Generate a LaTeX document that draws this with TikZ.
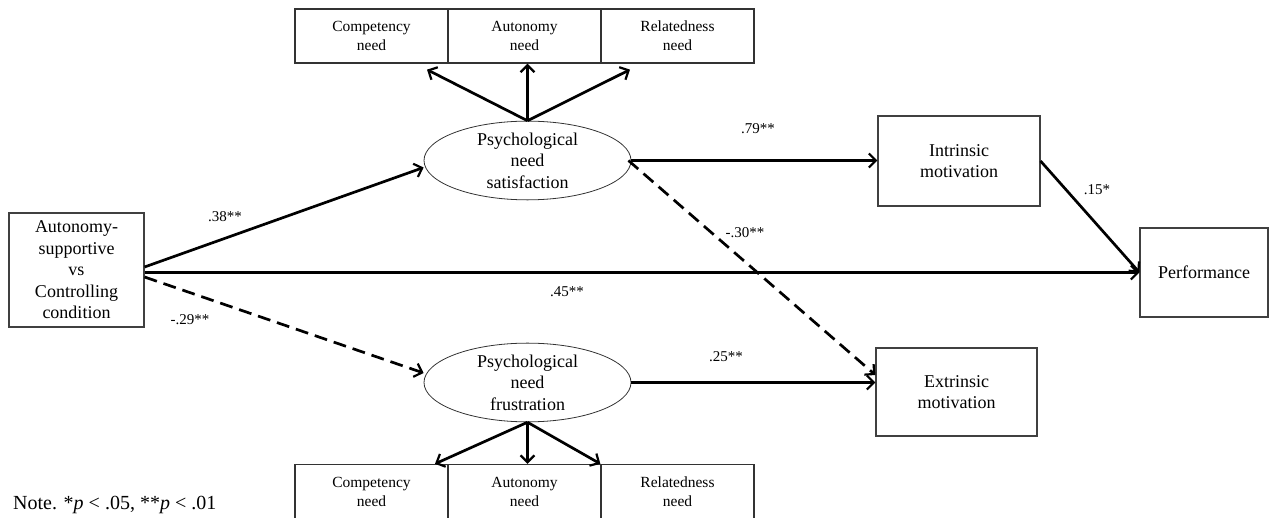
\documentclass[tikz,border=0pt]{standalone}
\usepackage{fontspec}
\setmainfont{Liberation Serif}
\usetikzlibrary{arrows.meta,calc,shapes.geometric}
\begin{document}
\begin{tikzpicture}[x=1pt,y=-1pt,
  box/.style={draw=black!75,line width=1.1pt,rectangle,align=center,inner sep=0pt,
    font=\fontsize{18}{21.5}\selectfont},
  needbox/.style={draw=black!80,line width=1.3pt,rectangle,align=center,inner sep=0pt,
    minimum width=153pt,minimum height=54pt,font=\fontsize{15.5}{19}\selectfont},
  latent/.style={draw=black!80,line width=0.8pt,ellipse,align=center,inner sep=0pt,
    minimum width=207pt,minimum height=77pt,font=\fontsize{18}{21.5}\selectfont},
  arr/.style={line width=2.7pt,-{Straight Barb[length=7pt,width=14pt,line width=2.2pt]}},
  darr/.style={arr,dash pattern=on 13pt off 7pt},
  coef/.style={font=\fontsize{15}{18}\selectfont,inner sep=0pt}]
\useasboundingbox (0,0) rectangle (1270,518);
% nodes
\node[box,minimum width=135pt,minimum height=114pt] (cond) at (76.5,270)
  {Autonomy-\\supportive\\vs\\Controlling\\condition};
\node[latent] (sat) at (527.5,160.5) {Psychological\\need\\satisfaction};
\node[latent,minimum height=76pt] (fru) at (527.5,382.5) {Psychological\\need\\frustration};
\node[needbox] (t1) at (371.5,36) {Competency\\need};
\node[needbox] (t2) at (524.5,36) {Autonomy\\need};
\node[needbox] (t3) at (677.5,36) {Relatedness\\need};
\node[needbox] (b1) at (371.5,491.5) {Competency\\need};
\node[needbox] (b2) at (524.5,491.5) {Autonomy\\need};
\node[needbox] (b3) at (677.5,491.5) {Relatedness\\need};
\node[box,minimum width=162pt,minimum height=90pt] (intr) at (959,161) {Intrinsic\\motivation};
\node[box,minimum width=128pt,minimum height=89pt] (perf) at (1204,272.5) {Performance};
\node[box,minimum width=161pt,minimum height=88pt] (extr) at (956.5,392) {Extrinsic\\motivation};
% connectors
\draw[arr] ([yshift=3pt]cond.east) -- ([yshift=-7pt]sat.west);
\draw[arr] (cond.east |- perf.west) -- (perf.west);
\draw[darr] ([yshift=-7pt]cond.east) -- ([yshift=9.5pt]fru.west);
\draw[arr] (sat.east) -- (sat.east -| intr.west);
\draw[darr] ([xshift=-3pt]sat.east) -- ([yshift=17pt]extr.west);
\draw[arr] (intr.east) -- (perf.west);
\draw[arr] (fru.east) -- (fru.east -| extr.west);
\draw[arr] (sat.north) -- ([xshift=55.5pt,yshift=-6pt]t1.south);
\draw[arr] (sat.north) -- (sat.north |- t2.south);
\draw[arr] (sat.north) -- ([xshift=-47.5pt,yshift=-6pt]t3.south);
\draw[arr] (fru.south) -- ([xshift=63.5pt]b1.north);
\draw[arr] (fru.south) -- (fru.south |- b2.north);
\draw[arr] (fru.south) -- (b3.north west);
% coefficients
\node[coef] (l38) at (225,217) {.38**};
\node[coef] (l45) at (567,292) {.45**};
\node[coef] (l29) at (190,320) {-.29**};
\node[coef] (l79) at (758,129) {.79**};
\node[coef] (l30) at (745,233) {-.30**};
\node[coef] (l15) at (1097,190) {.15*};
\node[coef] (l25) at (726,357) {.25**};
\node[anchor=base west,inner sep=0pt,font=\fontsize{20}{23}\selectfont] (note) at (13,510)
  {Note. *\textit{p} < .05, **\textit{p} < .01};
\end{tikzpicture}
\end{document}
